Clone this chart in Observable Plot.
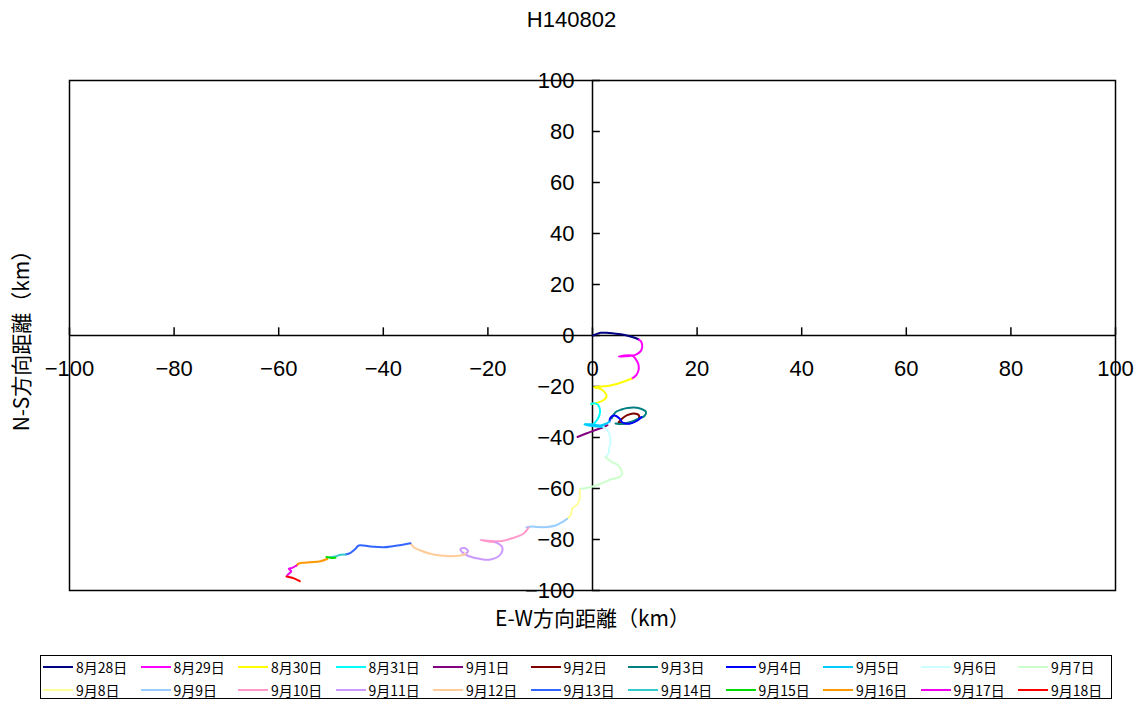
<!DOCTYPE html>
<html><head><meta charset="utf-8">
<script src="https://cdn.jsdelivr.net/npm/d3@7"></script>
<script src="https://cdn.jsdelivr.net/npm/@observablehq/plot@0.6"></script>
<style>
body{margin:0;background:#fff;font-family:"Noto Sans CJK JP",sans-serif;width:1143px;height:702px;position:relative;overflow:hidden}
#title{position:absolute;left:0;top:0;width:1143px;height:40px;line-height:40px;text-align:center;font-size:22px;font-family:"Liberation Sans",Arial,sans-serif;color:#000}
#chart{position:absolute;left:0;top:40px}
#legend{position:absolute;left:40px;top:655px;width:1072px;height:44px;border:1px solid #000;box-sizing:border-box;background:#fff}
.item{position:absolute;height:20px;display:flex;align-items:center;font-size:14px;font-family:"Noto Sans CJK JP",sans-serif;color:#000;white-space:nowrap}
.item span.sw{display:inline-block;width:30px;height:0;border-top:2px solid;margin-right:3px}
</style>
</head><body>
<div id="title">H140802</div>
<div id="chart"></div>
<div id="legend"></div>
<script>
const days = ["8月28日","8月29日","8月30日","8月31日","9月1日","9月2日","9月3日","9月4日","9月5日","9月6日","9月7日",
              "9月8日","9月9日","9月10日","9月11日","9月12日","9月13日","9月14日","9月15日","9月16日","9月17日","9月18日"];
const colors = ["#000080","#FF00FF","#FFFF00","#00FFFF","#800080","#800000","#008080","#0000FF","#00CCFF","#CCFFFF","#CCFFCC",
                "#FFFF99","#99CCFF","#FF99CC","#CC99FF","#FFCC99","#3366FF","#33CCCC","#00DD00","#FF9900","#EE00EE","#FF0000"];
const xTicks = [-100,-80,-60,-40,-20,0,20,40,60,80,100];
const yTicks = [-100,-80,-60,-40,-20,0,20,40,60,80,100];
// [E-W km, N-S km] track points per day
const tracks = [
  [[0.13,0],[1.53,1.06],[2.68,1.06],[4.07,0.78],[5.98,0.27],[7.9,-0.78],[8.85,-1.57]],
  [[8.85,-1.57],[9.37,-2.63],[9.5,-4.59],[9.18,-6.27],[8.22,-7.57],[7.59,-7.84],[6.31,-8.12],[5.03,-8.24],[7.59,-7.84],[8.22,-9.14],[8.74,-11.1],[8.85,-13.06],[8.41,-15.41],[7.46,-16.98]],
  [[7.46,-16.98],[5.35,-18.55],[3.44,-19.61],[1.53,-20],[0.25,-20.27],[1.53,-20.9],[2.39,-22.35],[2.68,-23.92],[2.16,-25.29],[0.9,-26.39],[-0.25,-26.94]],
  [[-0.25,-26.94],[0.25,-26.55],[1.01,-27.06],[1.4,-28.75],[1.4,-30.71],[1.01,-32.67],[0.25,-34.63],[-0.71,-35.02],[-1.34,-34.63]],
  [[-2.87,-39.8],[-1.34,-38.55],[0.57,-37.06],[2.16,-35.88],[2.87,-35.18]],
  [[4.97,-34.12],[5.68,-32.55],[6.63,-31.25],[7.9,-30.59],[8.85,-31.25],[8.85,-32.55],[7.9,-33.84],[6.63,-34.51],[5.35,-34.31]],
  [[3.63,-32.55],[4.4,-30.08],[5.54,-29.02],[6.69,-28.43],[8.03,-28.24],[9.37,-28.82],[10.23,-30],[9.94,-31.57],[8.6,-32.75],[7.27,-33.92],[5.74,-34.71],[4.4,-34.51]],
  [[9.37,-31.96],[8.6,-33.33],[7.27,-34.51],[5.74,-34.12],[5.16,-32.55],[4.21,-31.37],[3.44,-32.16],[3.25,-33.73]],
  [[3.25,-33.73],[2.68,-34.51],[1.53,-35.29],[0,-34.9],[-1.53,-34.9],[0,-35.49],[2.1,-35.88]],
  [[2.1,-35.88],[2.87,-37.25],[3.35,-39.61],[3.44,-41.96],[3.15,-44.31],[3.15,-45.88],[2.49,-47.73]],
  [[2.49,-47.73],[3.77,-49.69],[4.72,-50.59],[5.54,-52.94],[5.68,-54.51],[4.97,-55.69],[3.44,-56.47],[1.2,-58.43],[-0.71,-59.61],[-2.29,-60.12]],
  [[-2.49,-60.39],[-2.43,-63.41],[-2.81,-66],[-3.88,-67.96],[-4.21,-70.59],[-4.84,-71.88]],
  [[-4.84,-71.88],[-5.79,-73.22],[-7.07,-74.51],[-8.66,-75.1],[-10.57,-75.1],[-11.53,-74.9],[-12.62,-75.18]],
  [[-12.24,-75.29],[-13.14,-77.65],[-15.68,-79.73],[-17.59,-80.67],[-19.5,-80.59],[-21.41,-80.12],[-20.08,-80.67],[-18.55,-81.06]],
  [[-18.55,-81.06],[-17.27,-83.02],[-17.59,-85.88],[-19.5,-87.84],[-21.41,-87.65],[-23.71,-86.47],[-24.86,-85.1],[-25.24,-83.73],[-24.47,-83.33],[-23.8,-84.51],[-24.28,-85.69]],
  [[-24.28,-85.69],[-25.24,-86.27],[-27.15,-86.55],[-29.06,-86.27],[-30.98,-85.61],[-32.89,-84.31],[-34.17,-83.02],[-34.8,-81.45]],
  [[-34.8,-81.45],[-37.34,-82.35],[-39.9,-83.02],[-42.45,-82.75],[-44.68,-82.35],[-45.32,-83.65],[-46.27,-85.22],[-47.23,-85.88]],
  [[-47.23,-85.88],[-48.18,-86],[-49.14,-86.67],[-50.1,-86.94]],
  [[-49.14,-87.18],[-50.1,-87.18],[-50.86,-86.86],[-50.73,-87.65]],
  [[-50.73,-87.65],[-52.01,-88.51],[-53.92,-88.9],[-55.51,-89.14],[-56.16,-89.41],[-56.6,-90.2]],
  [[-56.6,-90.2],[-57.42,-91.1],[-58.07,-91.49],[-57.61,-92.43],[-58.07,-93.45],[-58.37,-94.12]],
  [[-58.51,-94.51],[-57.42,-95.02],[-56.46,-95.8],[-55.97,-96.35]]
];

const rows = tracks.flatMap((pts, i) => pts.map(([x, y]) => ({day: days[i], x, y})));
const fmt = d => d < 0 ? "\u2212" + (-d) : String(d);
const numFont = "Liberation Sans, Arial, sans-serif";
const jpFont = "Noto Sans CJK JP, sans-serif";

const chart = Plot.plot({
  width: 1143, height: 605,
  marginTop: 40, marginBottom: 55, marginLeft: 69, marginRight: 28,
  x: {domain: [-100, 100], axis: null},
  y: {domain: [-100, 100], axis: null},
  color: {domain: days, range: colors},
  style: {background: "white", overflow: "visible"},
  marks: [
    Plot.frame({stroke: "#000", strokeWidth: 1.5}),
    Plot.ruleX([0], {stroke: "#000", strokeWidth: 1.5}),
    Plot.ruleY([0], {stroke: "#000", strokeWidth: 1.5}),
    Plot.ruleX(xTicks, {x: d => d, y1: 0, y2: 3, stroke: "#000", strokeWidth: 1.5}),
    Plot.ruleY(yTicks, {y: d => d, x1: 0, x2: 1.5, stroke: "#000", strokeWidth: 1.5}),
    Plot.text(xTicks, {x: d => d, y: 0, dy: 33, text: fmt, fontSize: 22, fontFamily: numFont, fill: "#000"}),
    Plot.text(yTicks, {x: 0, y: d => d, dx: -18, textAnchor: "end", text: fmt, fontSize: 22, fontFamily: numFont, fill: "#000"}),
    Plot.text(["E-W方向距離（km）"], {frameAnchor: "bottom", dy: 35, fontSize: 21, fontFamily: jpFont, fill: "#000", textAnchor: "middle"}),
    Plot.text(["N-S方向距離（km）"], {frameAnchor: "left", dx: -47, rotate: -90, fontSize: 21, fontFamily: jpFont, fill: "#000", textAnchor: "middle"}),
    Plot.line(rows, {x: "x", y: "y", z: "day", stroke: "day", strokeWidth: 2, curve: "catmull-rom"})
  ]
});
document.getElementById("chart").appendChild(chart);

const legend = document.getElementById("legend");
days.forEach((d, i) => {
  const col = i % 11, row = Math.floor(i / 11);
  const el = document.createElement("div");
  el.className = "item";
  el.style.left = (2 + 97.5 * col) + "px";
  el.style.top = (1 + 23 * row) + "px";
  const sw = document.createElement("span");
  sw.className = "sw";
  sw.style.borderTopColor = colors[i];
  el.appendChild(sw);
  el.appendChild(document.createTextNode(d));
  legend.appendChild(el);
});
</script>
</body></html>
